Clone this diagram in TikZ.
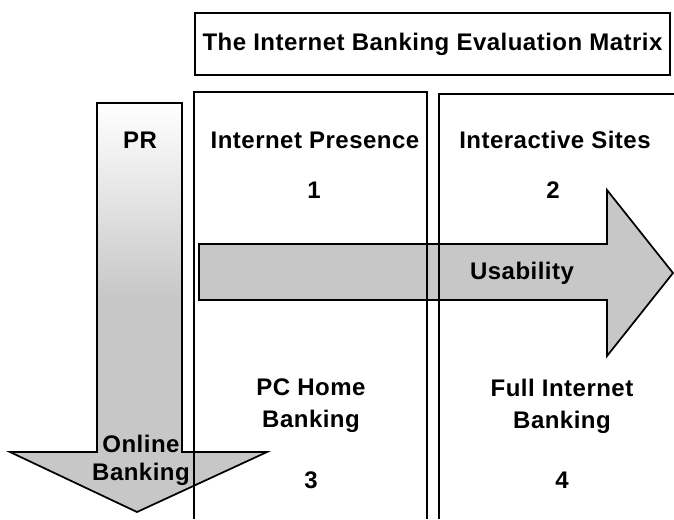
\documentclass[tikz,border=0pt]{standalone}
\usepackage{fontspec}
\setmainfont{Liberation Sans}[LetterSpace=2]
\begin{document}
\begin{tikzpicture}[x=0.75pt,y=-0.75pt,line join=miter,
		font=\fontsize{18}{22}\selectfont\bfseries,
		lbl/.style={align=center,inner sep=1pt},
		frame/.style={line width=1.2pt},
		band/.style={fill=black!22,draw=black,line width=1.3pt}]
		\useasboundingbox (0,0) rectangle (674,519);
		% horizontal arrow
		\draw[band] (199,244)--(607,244)--(607,190)--(673,273)--(607,356)--(607,300)--(199,300)--cycle;
		% vertical arrow, fading out towards the top
		\fill[black!22] (97,103)--(182,103)--(182,452)--(267,452)--(137,512)--(10,452)--(97,452)--cycle;
		\shade[top color=white,middle color=white,bottom color=black!22] (97,103) rectangle (182,300);
		\draw[line width=1.3pt] (97,103)--(182,103)--(182,452)--(267,452)--(137,512)--(10,452)--(97,452)--cycle;
		% columns of the matrix
		\draw[frame] (194,519)--(194,92)--(427,92)--(427,519);
		\draw[frame] (439,519)--(439,94)--(674,94);
		\node[draw,frame,minimum width=356pt,minimum height=46.5pt] (title) at (432.5,44) {The Internet Banking Evaluation Matrix};
		\node[lbl] (pr) at (140,140) {PR};
		\node[lbl] (online) at (141,460) {Online\\[-1pt]Banking};
		\node[lbl] (presence) at (315,140) {Internet Presence};
		\node[lbl] (interactive) at (555,140) {Interactive Sites};
		\node[lbl] (one) at (314,190) {1};
		\node[lbl] (two) at (553,190) {2};
		\node[lbl] (usability) at (522,273) {Usability};
		\node[lbl] (pchome) at (311,406) {PC Home\\[2pt]Banking};
		\node[lbl] (full) at (562,406) {Full Internet\\[2pt]Banking};
		\node[lbl] (three) at (311,480) {3};
		\node[lbl] (four) at (562,480) {4};
\end{tikzpicture}
\end{document}
